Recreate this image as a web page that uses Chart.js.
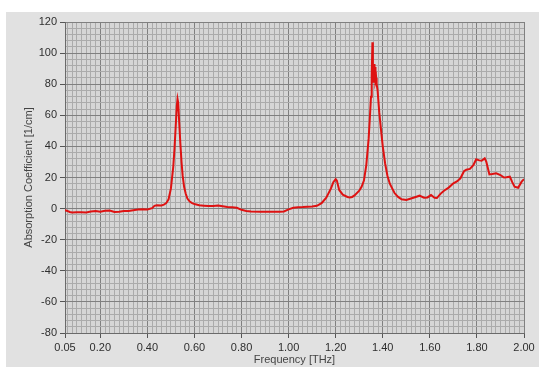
<!DOCTYPE html>
<html lang="en">
<head>
    <meta charset="UTF-8">
    <title>Absorption Coefficient</title>
    <script src="https://cdn.jsdelivr.net/npm/chart.js"></script>
    <style>
        body { margin: 0; background: #ffffff; }
        #wrap { width: 545px; height: 367px; }
    </style>
</head>
<body>
    <div id="wrap">
        <canvas id="absChart" width="545" height="367"></canvas>
    </div>

    <script>
        // frequency [THz] and absorption [1/cm]
        const freq = [
            0.05, 0.06, 0.07, 0.08, 0.10, 0.12, 0.14, 0.16, 0.18, 0.20,
            0.22, 0.24, 0.26, 0.28, 0.30, 0.32, 0.34, 0.36, 0.38, 0.40,
            0.42, 0.43, 0.44, 0.46, 0.47, 0.48, 0.49, 0.50, 0.51, 0.515,
            0.52, 0.525, 0.528, 0.531, 0.535, 0.54, 0.545, 0.55, 0.556, 0.563,
            0.57, 0.58, 0.59, 0.60, 0.62, 0.64, 0.66, 0.68, 0.70, 0.72,
            0.74, 0.76, 0.78, 0.80, 0.82, 0.84, 0.88, 0.92, 0.96, 0.98,
            1.00, 1.02, 1.04, 1.06, 1.08, 1.10, 1.12, 1.14, 1.16, 1.18,
            1.19, 1.20, 1.205, 1.215, 1.23, 1.25, 1.26, 1.27, 1.28, 1.30,
            1.31, 1.32, 1.33, 1.34, 1.345, 1.35, 1.353, 1.356, 1.358, 1.359,
            1.360, 1.361, 1.362, 1.363, 1.364, 1.365, 1.366, 1.367, 1.368, 1.369,
            1.370, 1.372, 1.374, 1.378, 1.385, 1.393, 1.40, 1.41, 1.42,
            1.43, 1.44, 1.45, 1.465, 1.48, 1.50, 1.52, 1.54, 1.556, 1.575,
            1.59, 1.605, 1.62, 1.63, 1.645, 1.66, 1.68, 1.70, 1.715, 1.73,
            1.745, 1.755, 1.77, 1.785, 1.797, 1.81, 1.82, 1.833, 1.84, 1.853,
            1.865, 1.882, 1.90, 1.915, 1.925, 1.94, 1.95, 1.96, 1.975, 1.99,
            2.00
        ];
        const absorption = [
            -1.0, -1.5, -2.2, -2.5, -2.4, -2.3, -2.5, -1.9, -1.6, -2.0,
            -1.4, -1.2, -2.2, -2.0, -1.6, -1.5, -1.0, -0.6, -0.4, -0.5,
            0.3, 1.8, 2.2, 2.0, 2.5, 3.5, 6, 13, 27, 38,
            52, 66, 70.5, 68, 56, 42, 30, 21, 14, 9.5,
            6.5, 4.5, 3.5, 3.0, 2.2, 1.9, 1.6, 1.6, 2.0, 1.5,
            1.0, 0.8, 0.5, -0.8, -1.5, -1.9, -2.0, -2.0, -2.0, -1.8,
            -0.5, 0.5, 0.9, 1.0, 1.2, 1.3, 1.8, 3.5, 7, 13,
            17, 19, 18, 12, 9, 7.5, 7.2, 7.5, 8.5, 11.5,
            14, 18, 28, 45, 58, 72, 85, 107, 86, 93,
            81, 93, 82, 92, 81, 93, 82, 91, 81, 90,
            82, 84, 80, 76, 62, 50, 40, 29, 21,
            16, 13, 10, 7.5, 6, 5.5, 6.5, 7.5, 8.3, 7.0,
            7.2, 8.7, 7.0, 6.8, 9.5, 11.5, 13.5, 16.3, 17.5, 19.5,
            24, 25, 25.5, 28, 31.7, 31, 30.8, 32.3, 30, 22,
            22.2, 22.7, 21.6, 20, 20.1, 20.5, 17, 14.1, 13.4, 17.3,
            19
        ];

        const xTickLabels = ['0.05', '0.20', '0.40', '0.60', '0.80', '1.00', '1.20', '1.40', '1.60', '1.80', '2.00'];
        const yTickLabels = ['-80', '-60', '-40', '-20', '0', '20', '40', '60', '80', '100', '120'];

        const xMajor = xTickLabels.map(Number);
        const yMajor = yTickLabels.map(Number);

        const isIn = (list, v) => list.some(m => Math.abs(m - v) < 1e-6);

        // minor grid every 0.02 THz and every 4 units
        const xGrid = [0.05];
        for (let k = 3; k <= 100; k++) xGrid.push(Math.round(k * 2) / 100);
        const yGrid = [];
        for (let v = -80; v <= 120; v += 4) yGrid.push(v);

        const points = freq.map((f, i) => ({ x: f, y: absorption[i] }));

        const panelBg = {
            id: 'panelBg',
            beforeDraw(chart) {
                const { ctx, chartArea } = chart;
                ctx.save();
                ctx.fillStyle = '#ffffff';
                ctx.fillRect(0, 0, chart.width, chart.height);
                ctx.fillStyle = '#e1e1e1';
                ctx.fillRect(6, 12, 533, 355);
                ctx.fillStyle = '#d6d6d6';
                ctx.fillRect(chartArea.left, chartArea.top, chartArea.right - chartArea.left, chartArea.bottom - chartArea.top);
                ctx.restore();
            }
        };

        const tickFont = { family: 'Liberation Sans', size: 11 };

        new Chart(document.getElementById('absChart'), {
            type: 'line',
            data: {
                datasets: [{
                    data: points,
                    borderColor: '#de1212',
                    borderWidth: 2,
                    pointRadius: 0,
                    tension: 0,
                    fill: false
                }]
            },
            options: {
                responsive: false,
                animation: false,
                layout: { padding: { top: 22, right: 21, left: 0, bottom: 0 } },
                plugins: { legend: { display: false }, tooltip: { enabled: false } },
                scales: {
                    x: {
                        type: 'linear',
                        min: 0.05,
                        max: 2.0,
                        afterBuildTicks: s => { s.ticks = xGrid.map(v => ({ value: v })); },
                        afterFit: s => { s.height = 34; },
                        ticks: {
                            autoSkip: false,
                            maxRotation: 0,
                            minRotation: 0,
                            padding: 3,
                            color: '#2e2e2e',
                            font: tickFont,
                            callback: v => isIn(xMajor, v) ? xTickLabels[xMajor.findIndex(m => Math.abs(m - v) < 1e-6)] : ''
                        },
                        grid: {
                            color: c => isIn(xMajor, c.tick.value) ? '#808080' : '#ababab',
                            tickColor: c => isIn(xMajor, c.tick.value) ? '#555555' : 'rgba(0,0,0,0)',
                            tickLength: 5,
                            lineWidth: 1
                        },
                        border: { color: '#6a6a6a' },
                        title: {
                            display: true,
                            text: 'Frequency [THz]',
                            color: '#444444',
                            font: { family: 'Liberation Sans', size: 11 },
                            padding: { top: 0, bottom: 0 }
                        }
                    },
                    y: {
                        min: -80,
                        max: 120,
                        afterBuildTicks: s => { s.ticks = yGrid.map(v => ({ value: v })); },
                        afterFit: s => { s.width = 65; },
                        ticks: {
                            autoSkip: false,
                            padding: 3,
                            color: '#2e2e2e',
                            font: tickFont,
                            callback: v => isIn(yMajor, v) ? String(v) : ''
                        },
                        grid: {
                            color: c => isIn(yMajor, c.tick.value) ? '#808080' : '#ababab',
                            tickColor: c => isIn(yMajor, c.tick.value) ? '#555555' : 'rgba(0,0,0,0)',
                            tickLength: 5,
                            lineWidth: 1
                        },
                        border: { color: '#6a6a6a' },
                        title: {
                            display: true,
                            text: 'Absorption Coefficient [1/cm]',
                            color: '#444444',
                            font: { family: 'Liberation Sans', size: 11 },
                            padding: { top: 22, bottom: 0 }
                        }
                    }
                }
            },
            plugins: [panelBg]
        });
    </script>
</body>
</html>
